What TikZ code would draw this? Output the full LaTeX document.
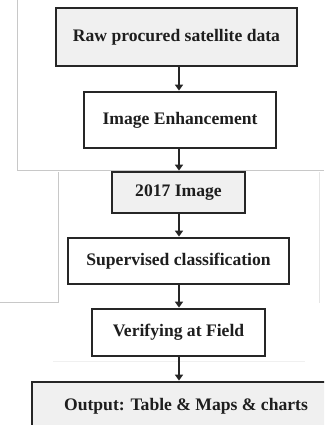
\documentclass[tikz,border=0pt]{standalone}
\usepackage{fontspec}
\setmainfont{Liberation Serif}
\usetikzlibrary{arrows.meta}
\definecolor{boxgrey}{HTML}{F0F0F0}
\definecolor{edgegrey}{HTML}{C8C8C8}
\definecolor{txt}{HTML}{1E1E1E}
\tikzset{
  boxfont/.style={font=\fontsize{17.6}{20}\selectfont\bfseries, text=txt},
  stepbox/.style={draw=black!85, line width=2.8pt, inner sep=0pt, align=center, boxfont},
  arr/.style={draw=black!85, line width=1.8pt, -{Triangle[length=6pt,width=8pt]}},
  frame/.style={draw=edgegrey, line width=1pt}
}
\begin{document}
\begin{tikzpicture}[x=1pt,y=-1pt]
\useasboundingbox (0,0) rectangle (324,425);
\clip (0,0) rectangle (324,425);
\fill[white] (0,0) rectangle (324,425);
% background screenshot edges
\draw[frame] (17,0) -- (17,170) -- (324,170);
\draw[frame] (58,172) -- (58,302) -- (0,302);
\draw[draw=black!10, line width=0.8pt] (319,172) -- (319,303);
\draw[draw=black!6, line width=0.8pt] (53,361) -- (305,361);
% boxes
\node[stepbox, fill=boxgrey, minimum width=241pt, minimum height=58pt] (b1) at (176.5,37) {Raw procured satellite data};
\node[stepbox, fill=white, minimum width=192pt, minimum height=56pt] (b2) at (180,120) {Image Enhancement};
\node[stepbox, fill=boxgrey, minimum width=133pt, minimum height=41pt] (b3) at (178.5,192.5) {2017 Image};
\node[stepbox, fill=white, minimum width=221pt, minimum height=46pt] (b4) at (178.5,261) {Supervised classification};
\node[stepbox, fill=white, minimum width=173pt, minimum height=47pt] (b5) at (178.5,332.5) {Verifying at Field};
\node[stepbox, fill=boxgrey, minimum width=310pt, minimum height=58pt] (b6) at (187,411) {};
\node[boxfont, inner sep=0pt] (t6) at (186,406) {Output: Table \& Maps \& charts};
% arrows
\draw[arr] (b1.south -| 179,0) -- (179,0 |- b2.north);
\draw[arr] (b2.south -| 179,0) -- (179,0 |- b3.north);
\draw[arr] (b3.south -| 179,0) -- (179,0 |- b4.north);
\draw[arr] (b4.south -| 179,0) -- (179,0 |- b5.north);
\draw[arr] (b5.south -| 179,0) -- (179,0 |- b6.north);
\end{tikzpicture}
\end{document}
